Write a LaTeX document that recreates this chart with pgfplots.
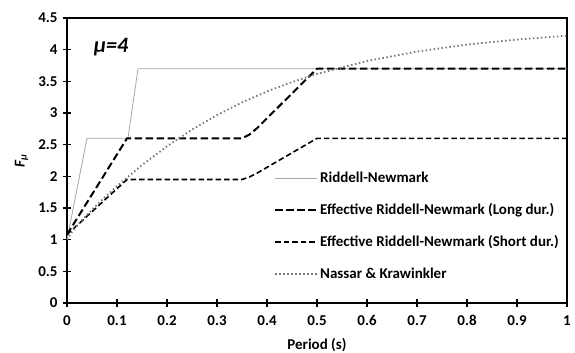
\documentclass[border=0pt]{standalone}
\usepackage{pgfplots}
\pgfplotsset{compat=1.18}
\usepackage{fontspec}
\setmainfont{Carlito}
\definecolor{rngray}{RGB}{165,165,165}
\definecolor{nkgray}{RGB}{120,120,120}
\begin{document}
\begin{tikzpicture}
\begin{axis}[
  scale only axis, width=500pt, height=285pt,
  xmin=0, xmax=1, ymin=0, ymax=4.5,
  xtick={0,0.1,0.2,0.3,0.4,0.5,0.6,0.7,0.8,0.9,1},
  ytick={0,0.5,1,1.5,2,2.5,3,3.5,4,4.5},
  /pgf/number format/assume math mode=true,
  tick label style={font=\fontsize{15}{17}\selectfont\bfseries},
  xticklabel style={yshift=-5pt},
  yticklabel style={xshift=-2pt},
  axis line style={line width=2.2pt},
  tick style={line width=1.6pt, black},
  tick align=center, major tick length=8pt,
  xtick pos=bottom, ytick pos=left,
  xlabel={\textbf{Period (s)}},
  ylabel={\textbf{\textit{F}}\textsubscript{\textbf{\textit{μ}}}},
  label style={font=\fontsize{15}{17}\selectfont},
  xlabel style={yshift=-6pt},
  ylabel style={yshift=3pt},
  legend style={draw=none, fill=none, at={(axis cs:0.414,2.1)}, anchor=north west,
     font=\fontsize{15}{17}\selectfont\bfseries, row sep=15.5pt, inner sep=0pt},
  legend cell align=left,
  legend image code/.code={\draw[#1] (0pt,0pt) -- (42pt,0pt);},
]
\addplot[rngray, line width=0.8pt] coordinates {(0,1) (0.04,2.6) (0.122,2.6) (0.142,3.7) (1,3.7)};
\addlegendentry{Riddell-Newmark}
\addplot[black, line width=2pt, dash pattern=on 7.5pt off 3.5pt] coordinates {(0,1.08) (0.12,2.6) (0.35,2.6) (0.365,2.66) (0.38,2.76) (0.5,3.7) (1,3.7)};
\addlegendentry{Effective Riddell-Newmark (Long dur.)}
\addplot[black, line width=1.6pt, dash pattern=on 5.5pt off 3pt] coordinates {(0,1.08) (0.12,1.95) (0.35,1.95) (0.365,1.99) (0.38,2.05) (0.5,2.6) (1,2.6)};
\addlegendentry{Effective Riddell-Newmark (Short dur.)}
\addplot[nkgray, line width=1.8pt, dash pattern=on 1.5pt off 2.5pt, line cap=butt] coordinates {
(0,1) (0.01,1.122) (0.02,1.219) (0.03,1.308) (0.05,1.473) (0.075,1.665) (0.1,1.846)
(0.15,2.178) (0.2,2.475) (0.25,2.737) (0.3,2.967) (0.35,3.167) (0.4,3.340) (0.45,3.489)
(0.5,3.617) (0.6,3.821) (0.7,3.970) (0.8,4.080) (0.9,4.160) (1,4.220)};
\addlegendentry{Nassar \& Krawinkler}
\node[font=\fontsize{22}{24}\selectfont\bfseries\itshape] at (axis cs:0.088,4.04) {μ=4};
\end{axis}
\pgfresetboundingbox
\path[use as bounding box] ([xshift=-67pt,yshift=-50pt]current axis.south west) rectangle ([xshift=8pt,yshift=18pt]current axis.north east);
\end{tikzpicture}
\end{document}
